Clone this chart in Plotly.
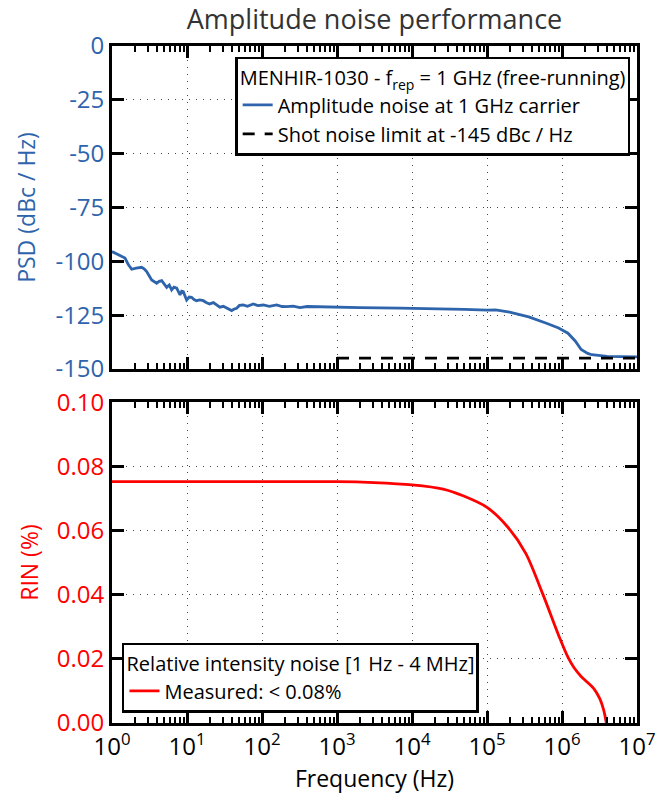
import plotly.graph_objects as go

# ---- data ----
psd_freq = [1.0, 1.2, 1.49, 1.65, 1.83, 2.1, 2.49, 2.7, 2.9, 3.1, 3.38, 3.94, 4.25, 4.6, 5.0, 5.36, 5.8, 6.24, 6.7, 7.29, 8.07, 8.5, 8.93, 9.89,
            10.7, 11.5, 12.4, 13.4, 14.8, 16.5, 18.0, 20.0, 22.5, 25.0, 27.4, 30.5, 34.0, 39.4, 42.0, 45.9, 50.0, 56.3, 64.0, 76.5, 88.0,
            104, 125, 157, 185, 212, 260, 321, 400, 535, 700, 1100, 2000, 6900, 20000, 50000, 100000, 130000, 200000, 360000, 620000,
            900000, 1200000, 1500000, 1800000, 2200000, 2500000, 3200000, 4000000, 6000000, 10000000]
psd_vals = [-95.5, -96.8, -98.5, -101.5, -103.7, -103.2, -102.8, -103.6, -104.8, -106.5, -108.7, -110.2, -109.3, -109.0, -110.8, -112.1, -111.0, -113.3, -112.0, -112.5, -115.6, -113.9, -114.1, -118.0,
            -116.6, -116.7, -117.8, -118.3, -117.9, -118.3, -119.1, -119.8, -119.2, -120.4, -121.3, -120.9, -121.9, -122.9, -122.3, -121.8, -120.5, -120.3, -120.9, -119.8, -120.6,
            -120.3, -120.9, -120.3, -121.0, -121.1, -120.8, -121.5, -121.0, -121.1, -121.4, -121.3, -121.5, -121.8, -122.0, -122.3, -122.7, -122.6, -123.6, -125.8, -128.8,
            -131.0, -133.4, -137.0, -141.0, -142.8, -143.4, -143.9, -144.2, -144.3, -144.4]
shot_freq = [1000, 10000000]
shot_vals = [-145, -145]

rin_freq = [1, 10, 100, 1000, 3100, 10000, 26000, 48000, 100000, 190000, 330000, 550000, 950000, 1200000, 1450000, 1800000, 2200000, 2700000, 3200000, 3600000, 3900000]
rin_vals = [0.0752, 0.0752, 0.0752, 0.0752, 0.0749, 0.0742, 0.0729, 0.0708, 0.0672, 0.0610, 0.0528, 0.0404, 0.0260, 0.0205, 0.0172, 0.0145, 0.0126, 0.0105, 0.0075, 0.0040, 0.0]

x_tickvals = [1, 10, 100, 1000, 10000, 100000, 1000000, 10000000]
x_ticktext = ["10<sup>0</sup>", "10<sup>1</sup>", "10<sup>2</sup>", "10<sup>3</sup>", "10<sup>4</sup>", "10<sup>5</sup>", "10<sup>6</sup>", "10<sup>7</sup>"]
psd_ticks = [0, -25, -50, -75, -100, -125, -150]
psd_ticktext = ["0", "-25", "-50", "-75", "-100", "-125", "-150"]
rin_ticks = [0.0, 0.02, 0.04, 0.06, 0.08, 0.10]
rin_ticktext = ["0.00", "0.02", "0.04", "0.06", "0.08", "0.10"]

BLUE = "#2e64ab"
RED = "#ff0000"
FONT = "Open Sans"
TICK = 24
LEG = 20

fig = go.Figure()
fig.add_trace(go.Scatter(x=psd_freq, y=psd_vals, mode="lines", xaxis="x2", yaxis="y2",
                         line=dict(color=BLUE, width=2.8),
                         name="Amplitude noise at 1 GHz carrier", legend="legend"))
fig.add_trace(go.Scatter(x=shot_freq, y=shot_vals, mode="lines", xaxis="x2", yaxis="y2",
                         line=dict(color="black", width=2.8, dash="12px,10px"),
                         name="Shot noise limit at -145 dBc / Hz", legend="legend"))
fig.add_trace(go.Scatter(x=rin_freq, y=rin_vals, mode="lines", xaxis="x", yaxis="y",
                         line=dict(color=RED, width=2.8, shape="spline", smoothing=0.8),
                         name="Measured: < 0.08%", legend="legend2"))

grid = dict(showgrid=True, gridcolor="#444", griddash="1px,6px", gridwidth=1.2)
frame = dict(showline=True, linecolor="black", linewidth=2.8, mirror="allticks", zeroline=False,
             ticks="inside", ticklen=12, tickwidth=2.5, tickcolor="black")

common_x = dict(type="log", range=[0, 7], tickvals=x_tickvals, ticktext=x_ticktext,
                minor=dict(ticks="inside", ticklen=6, tickwidth=1.5, tickcolor="black",
                           dtick="D1", showgrid=False),
                **frame, **grid)

fig.update_layout(
    width=662, height=790,
    margin=dict(l=104, r=33, t=38, b=75),
    paper_bgcolor="white", plot_bgcolor="white",
    font=dict(family=FONT, size=TICK, color="black"),
    title=dict(text="Amplitude noise performance", x=0.5, xref="paper", y=0.986,
               yanchor="middle", font=dict(family=FONT, size=27, color="#333")),
    xaxis=dict(**common_x, domain=[0, 1], anchor="y",
               title=dict(text="Frequency (Hz)", font=dict(size=23), standoff=8),
               tickfont=dict(size=TICK, color="black")),
    xaxis2=dict(**common_x, domain=[0, 1], anchor="y2", matches="x", showticklabels=False),
    yaxis=dict(domain=[0, 0.474], range=[0, 0.1], tickvals=rin_ticks, ticktext=rin_ticktext,
               **frame, **grid,
               tickfont=dict(size=TICK, color=RED),
               title=dict(text="RIN (%)", font=dict(size=23, color=RED), standoff=12)),
    yaxis2=dict(domain=[0.523, 1], range=[-150, 0], tickvals=psd_ticks, ticktext=psd_ticktext,
                **frame, **grid,
                tickfont=dict(size=TICK, color=BLUE),
                title=dict(text="PSD (dBc / Hz)", font=dict(size=23, color=BLUE), standoff=14)),
    legend=dict(x=0.987, xanchor="right", y=0.984, yanchor="top",
                bgcolor="white", bordercolor="black", borderwidth=2.5,
                font=dict(family=FONT, size=LEG, color="black"),
                title=dict(text="MENHIR-1030 - f<sub>rep</sub> = 1 GHz (free-running)",
                           side="top", font=dict(family=FONT, size=LEG, color="black")),
                tracegroupgap=0),
    legend2=dict(x=0.019, xanchor="left", y=0.015, yanchor="bottom",
                 bgcolor="white", bordercolor="black", borderwidth=2.5,
                 font=dict(family=FONT, size=LEG, color="black"),
                 title=dict(text="Relative intensity noise [1 Hz - 4 MHz]",
                            side="top center", font=dict(family=FONT, size=LEG, color="black"))),
    showlegend=True,
)

fig.write_html("out.html")
